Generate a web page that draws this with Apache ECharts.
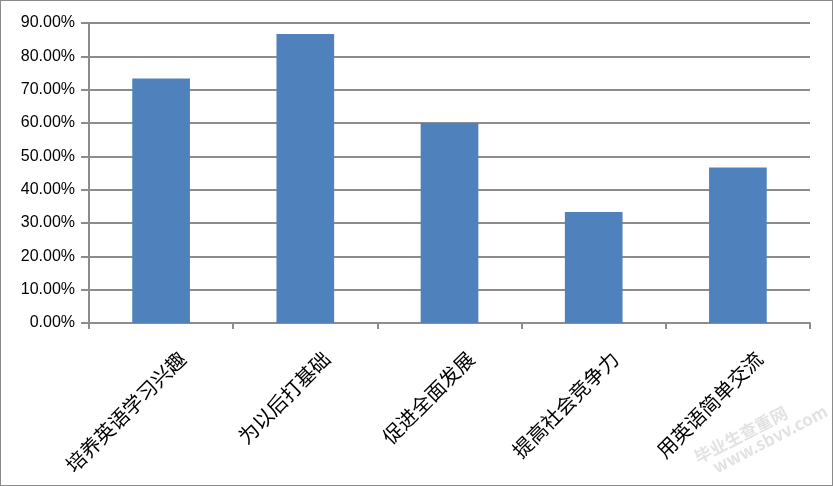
<!DOCTYPE html>
<html>
<head>
<meta charset="utf-8">
<script src="https://cdn.jsdelivr.net/npm/echarts@6/dist/echarts.min.js"></script>
<style>
html,body{margin:0;padding:0;background:#fff;}
#c{width:831px;height:484px;border:1px solid #8a8a8a;}
</style>
</head>
<body>
<div id="c"></div>
<script>
const categories = ['培养英语学习兴趣', '为以后打基础', '促进全面发展', '提高社会竞争力', '用英语简单交流'];
const values = [73.33, 86.67, 60.00, 33.33, 46.67];
const yMin = 0, yMax = 90, yInterval = 10;

const chart = echarts.init(document.getElementById('c'));
chart.setOption({
  animation: false,
  grid: { left: 88, right: 22, top: 22, bottom: 162 },
  xAxis: {
    type: 'category',
    data: categories,
    axisLine: { lineStyle: { color: '#8c8c8c', width: 2 } },
    axisTick: { show: true, length: 6, lineStyle: { color: '#8c8c8c', width: 2 } },
    axisLabel: {
      rotate: 45, margin: 11, color: '#000',
      verticalAlign: 'top', padding: [20, 0, 0, 0],
      fontFamily: 'Noto Sans CJK SC', fontSize: 20
    }
  },
  yAxis: {
    type: 'value',
    min: yMin, max: yMax, interval: yInterval,
    axisLine: { show: true, lineStyle: { color: '#8c8c8c', width: 2 } },
    axisTick: { show: true, inside: false, length: 8, lineStyle: { color: '#8c8c8c', width: 2 } },
    splitLine: { lineStyle: { color: '#8c8c8c', width: 2 } },
    axisLabel: {
      color: '#000', fontFamily: 'Liberation Sans', fontSize: 16, margin: 14,
      formatter: v => v.toFixed(2) + '%'
    }
  },
  series: [{
    type: 'bar',
    data: values,
    barCategoryGap: '60%',
    itemStyle: { color: '#4F81BD' }
  }],
  graphic: [{
    type: 'text',
    right: 2, bottom: 4,
    rotation: 0.48,
    style: {
      text: '毕业生查重网\n   www.sbvv.com',
      fill: 'rgba(190,190,190,0.45)',
      font: 'bold 17px "Noto Sans CJK SC"'
    }
  }]
});
</script>
</body>
</html>
